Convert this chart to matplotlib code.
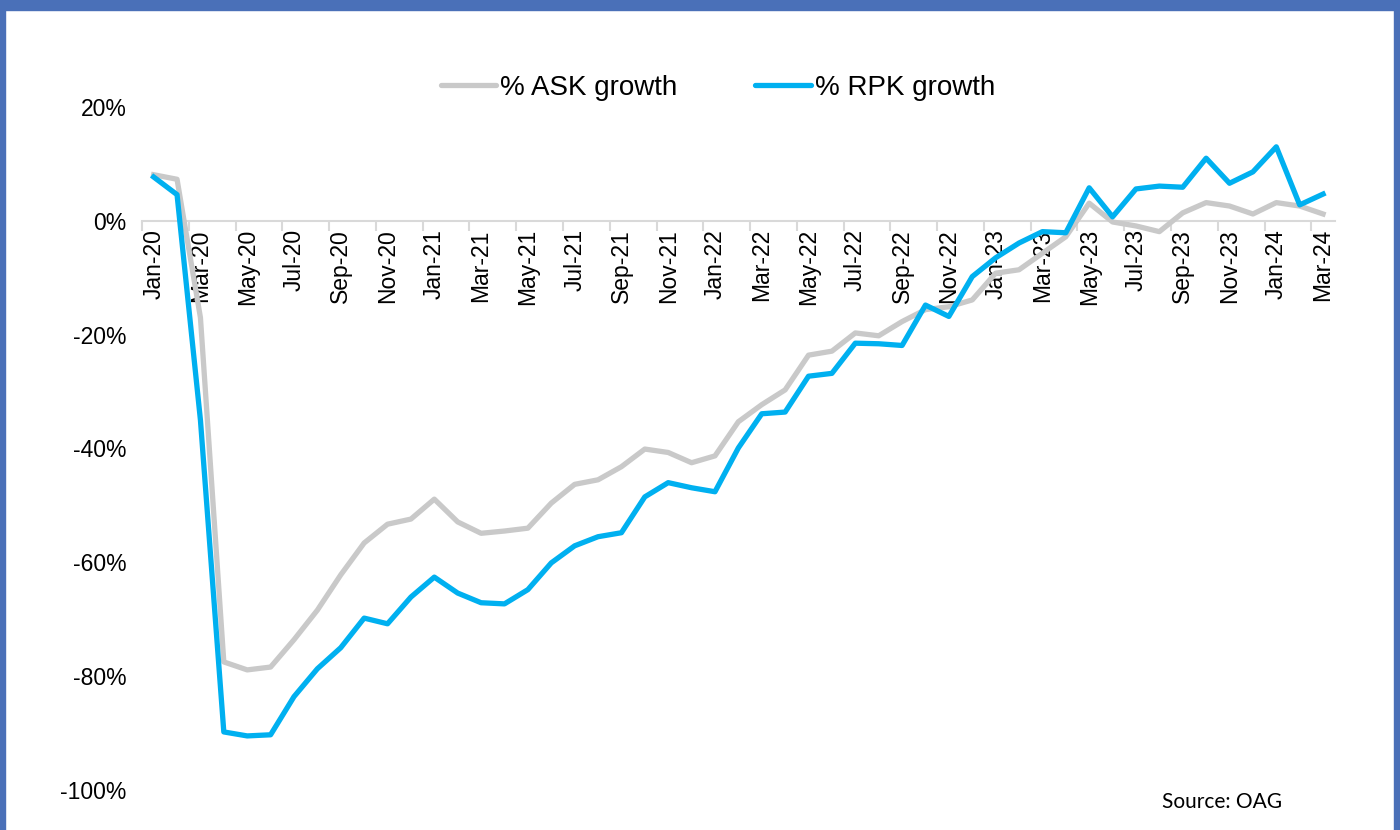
import matplotlib.pyplot as plt
import matplotlib.patches as mpatches
import numpy as np

plt.rcParams['font.family'] = ['Liberation Sans', 'DejaVu Sans']

# months Jan-20 .. Mar-24
months = ['Jan', 'Feb', 'Mar', 'Apr', 'May', 'Jun', 'Jul', 'Aug', 'Sep', 'Oct', 'Nov', 'Dec']
labels = [f'{m}-{y}' for y in range(20, 25) for m in months][:51]

ask_growth = [8.1, 7.3, -17.0, -77.5, -78.9, -78.4, -73.6, -68.4, -62.2, -56.6,
              -53.3, -52.4, -48.9, -52.9, -54.9, -54.5, -54.0, -49.6, -46.3, -45.5,
              -43.2, -40.1, -40.7, -42.5, -41.3, -35.3, -32.3, -29.7, -23.6, -22.9,
              -19.7, -20.2, -17.7, -15.6, -15.1, -13.9, -9.2, -8.6, -5.7, -2.8,
              3.1, -0.2, -0.9, -1.9, 1.4, 3.2, 2.6, 1.2, 3.2, 2.6, 1.2]
rpk_growth = [7.7, 4.6, -35.0, -89.8, -90.5, -90.3, -83.6, -78.7, -75.0, -69.8,
              -70.8, -66.1, -62.6, -65.4, -67.1, -67.3, -64.8, -60.1, -57.1, -55.5,
              -54.8, -48.5, -46.0, -46.9, -47.6, -39.9, -33.9, -33.6, -27.3, -26.8,
              -21.5, -21.6, -21.9, -14.8, -16.8, -9.8, -6.5, -3.9, -1.9, -2.1,
              5.8, 0.7, 5.6, 6.1, 5.9, 11.0, 6.6, 8.6, 13.0, 2.8, 4.7]

x = np.arange(len(labels))

fig = plt.figure(figsize=(14, 8.3), dpi=100)
ax = fig.add_axes([0.1014, 0.0482, 0.852, 0.8229])

ax.plot(x, ask_growth, color='#C9C9C9', lw=3.8, label='% ASK growth', zorder=3)
ax.plot(x, rpk_growth, color='#00B0F0', lw=3.8, label='% RPK growth', zorder=3)

ax.set_xlim(-0.5, len(labels) - 0.5)
ax.set_ylim(-100, 20)
ax.set_yticks(np.arange(-100, 21, 20))
ax.set_yticklabels([f'{v}%' for v in range(-100, 21, 20)], fontsize=16.5)
ax.tick_params(axis='y', length=0, pad=11)

for s in ['top', 'right', 'left']:
    ax.spines[s].set_visible(False)
ax.spines['bottom'].set_position(('data', 0))
ax.spines['bottom'].set_color('#D9D9D9')
ax.spines['bottom'].set_linewidth(1.5)

# tick marks between every second category, labels on every second category
ax.set_xticks(np.arange(-0.5, len(labels) - 1, 2))
ax.set_xticklabels([])
ax.tick_params(axis='x', which='major', length=7, width=1.5, color='#D9D9D9', direction='out')
ax.set_xticks(x[::2], minor=True)
ax.set_xticklabels(labels[::2], minor=True, rotation=90, fontsize=16.5)
ax.tick_params(axis='x', which='minor', length=0, pad=6)

leg = fig.legend(loc='center', bbox_to_anchor=(718 / 1400, 1 - 88 / 830), ncol=2, frameon=False,
                 fontsize=20, handlelength=2.0, handletextpad=0.15, columnspacing=2.8)
for h in leg.get_lines():
    h.set_solid_capstyle('round')

fig.text(1282 / 1400, 1 - 802 / 830, 'Source: OAG', fontsize=15, family=['Lato', 'DejaVu Sans'],
         ha='right', va='center')

# blue frame
frame = '#4A70B8'
fig.patches.append(mpatches.Rectangle((0, 1 - 10 / 830), 1, 10 / 830, transform=fig.transFigure,
                                      color=frame, zorder=10))
fig.patches.append(mpatches.Rectangle((0, 0), 5 / 1400, 1, transform=fig.transFigure,
                                      color=frame, zorder=10))
fig.patches.append(mpatches.Rectangle((1 - 6 / 1400, 0), 6 / 1400, 1, transform=fig.transFigure,
                                      color=frame, zorder=10))

fig.savefig('out.png', dpi=100)
